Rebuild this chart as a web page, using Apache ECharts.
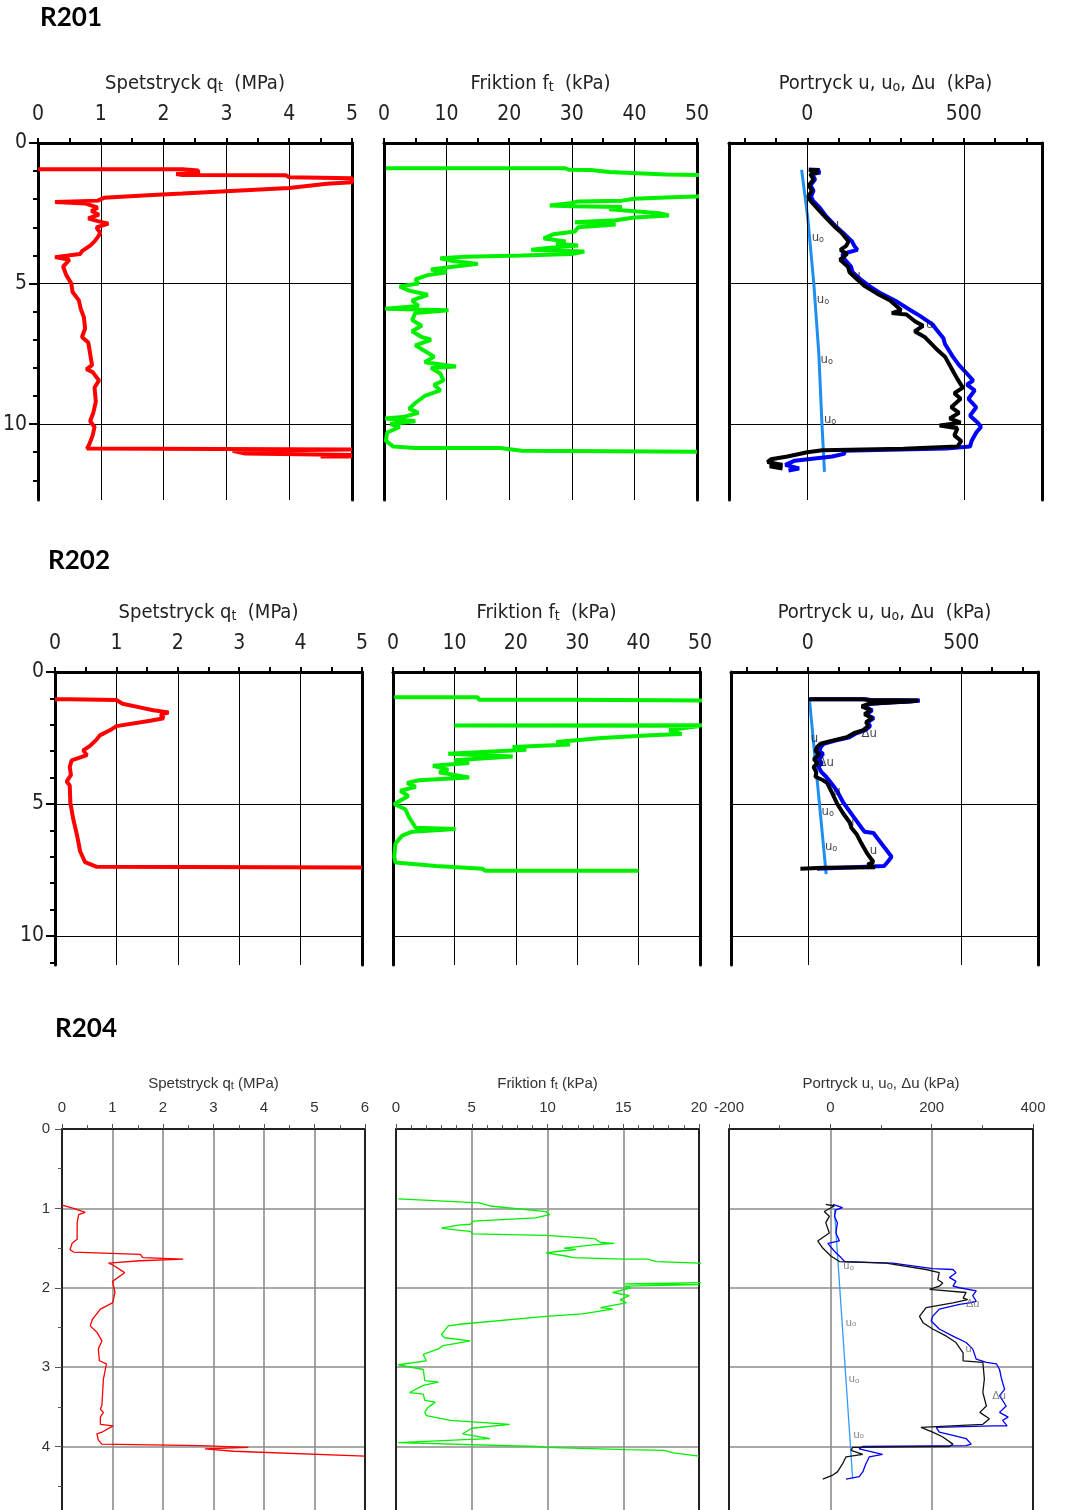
<!DOCTYPE html>
<html><head><meta charset="utf-8">
<script src="https://cdn.jsdelivr.net/npm/echarts@6/dist/echarts.min.js"></script>
<style>html,body{margin:0;padding:0;background:#fff}#c{width:1074px;height:1510px}</style>
</head><body><div id="c"></div>
<script>
// ---------------- DATA (value, depth m) ----------------
const titles = ['R201', 'R202', 'R204'];

const r201_qt = [[0,0.93],[2.3,0.93],[2.55,0.98],[2.55,1.07],[2.2,1.1],[2.3,1.14],[3.95,1.15],[4.0,1.22],[5.0,1.25],[5.0,1.4],[4.6,1.45],[4.0,1.6],[3.3,1.68],[2.3,1.8],[1.75,1.86],[1.05,1.95],[0.95,2.05],[0.27,2.1],[0.75,2.15],[0.95,2.3],[0.85,2.42],[0.97,2.55],[0.8,2.68],[0.95,2.78],[1.12,2.87],[0.93,3.0],[0.99,3.2],[0.95,3.35],[0.9,3.5],[0.83,3.65],[0.7,3.85],[0.67,3.95],[0.27,4.06],[0.5,4.15],[0.4,4.4],[0.45,4.7],[0.53,5.0],[0.55,5.3],[0.65,5.6],[0.68,5.9],[0.73,6.2],[0.75,6.6],[0.7,6.9],[0.8,7.1],[0.83,7.5],[0.86,7.9],[0.77,8.05],[0.87,8.15],[0.97,8.45],[0.9,8.7],[0.92,9.2],[0.88,9.6],[0.83,9.9],[0.9,10.1],[0.87,10.4],[0.82,10.7],[0.78,10.87],[5.0,10.9],[3.1,10.95],[3.3,11.05],[5.0,11.1],[4.5,11.15],[5.0,11.15]];
const r201_ft = [[0.3,0.9],[29,0.9],[29.5,0.95],[33,0.96],[36,1.03],[36,1.1],[45,1.12],[55,1.16],[55,1.88],[50,1.9],[46,1.93],[40,1.98],[38,2.05],[31,2.08],[30,2.13],[26.5,2.22],[30,2.25],[38,2.28],[36,2.36],[44,2.5],[45.5,2.58],[40,2.65],[37,2.75],[30.5,2.82],[37,2.9],[31,3.0],[30.5,3.15],[27,3.25],[25.5,3.4],[29,3.5],[27.5,3.58],[31,3.65],[27,3.72],[23.5,3.8],[32,3.86],[30,3.95],[22,4.0],[13,4.05],[9,4.1],[11,4.2],[15,4.3],[11,4.4],[7.5,4.5],[10,4.6],[7,4.7],[5,4.85],[5.5,5.0],[2.5,5.1],[4,5.25],[7,5.4],[4.5,5.6],[5.5,5.8],[0.2,5.9],[10.3,5.95],[5,6.05],[4.5,6.3],[6,6.5],[4.5,6.7],[6,6.9],[7.5,7.0],[5,7.2],[6.5,7.4],[8,7.6],[6.5,7.8],[11.5,7.95],[7.5,8.0],[9,8.2],[9.5,8.45],[8,8.6],[9,8.8],[6.5,9.0],[5,9.25],[4,9.45],[5.5,9.6],[3,9.75],[0.2,9.8],[5,9.9],[1,10.0],[2.5,10.1],[0.5,10.3],[0.3,10.6],[1.5,10.8],[5,10.85],[18.5,10.85],[22,10.95],[50,10.98]];
const r201_u0 = [[-18,0.95],[2,2.7],[21,5.0],[37,7.5],[47,10.0],[55,11.7]];
const r201_u = [[5,0.95],[40,0.96],[30,1.0],[42,1.05],[15,1.1],[25,1.3],[10,1.5],[20,1.7],[12,1.9],[18,2.05],[40,2.3],[60,2.6],[90,2.95],[115,3.2],[143,3.5],[150,3.65],[160,3.8],[112,3.95],[120,4.15],[140,4.4],[145,4.6],[170,4.85],[200,5.1],[235,5.35],[280,5.6],[330,5.95],[360,6.15],[400,6.45],[410,6.6],[435,6.95],[440,7.15],[465,7.6],[485,7.9],[510,8.2],[530,8.45],[510,8.6],[535,8.8],[515,9.1],[540,9.4],[520,9.7],[545,9.95],[555,10.1],[540,10.3],[525,10.6],[520,10.8],[444,10.87],[115,10.95],[120,11.05],[80,11.15],[-40,11.3],[-70,11.45],[-26,11.58],[-60,11.65]];
const r201_du = [[5,0.95],[37,0.96],[20,1.0],[35,1.05],[10,1.1],[20,1.3],[5,1.5],[15,1.7],[3,1.9],[10,2.05],[30,2.3],[55,2.6],[85,2.95],[110,3.2],[132,3.5],[125,3.65],[106,3.8],[127,3.95],[105,4.15],[130,4.4],[135,4.6],[159,4.85],[185,5.1],[222,5.35],[265,5.6],[300,5.95],[270,6.05],[317,6.1],[345,6.35],[370,6.5],[343,6.7],[375,6.9],[410,7.3],[440,7.6],[465,8.1],[480,8.4],[497,8.7],[470,8.9],[490,9.1],[460,9.4],[485,9.6],[455,9.8],[490,9.95],[423,10.05],[480,10.15],[470,10.4],[492,10.6],[480,10.8],[307,10.88],[48,10.93],[0,11.0],[-63,11.15],[-116,11.25],[-127,11.35],[-79,11.45],[-120,11.5],[-79,11.58]];
const r201_tags = [[90,2.9,'u'],[159,4.72,'u'],[391,6.47,'u'],[34,3.35,'u_o'],[50,5.56,'u_o'],[62,7.72,'u_o'],[73,9.83,'u_o']];

const r202_qt = [[0,1.03],[0.24,1.03],[1.0,1.06],[1.1,1.2],[1.4,1.35],[1.6,1.45],[1.85,1.53],[1.72,1.62],[1.77,1.75],[1.55,1.85],[1.0,2.05],[0.9,2.2],[0.73,2.4],[0.68,2.55],[0.57,2.8],[0.46,2.97],[0.52,3.15],[0.27,3.35],[0.24,3.6],[0.26,3.9],[0.19,4.15],[0.24,4.3],[0.25,4.97],[0.3,5.6],[0.36,6.2],[0.41,6.8],[0.49,7.2],[0.68,7.38],[5.0,7.41]];
const r202_ft = [[0.2,0.96],[13.8,0.96],[14,1.05],[29.3,1.05],[29.5,1.09],[55,1.09],[55,2.02],[10,2.03],[50,2.05],[45,2.2],[47,2.35],[42,2.4],[34,2.5],[26.6,2.65],[28.8,2.75],[19.5,2.84],[21.7,2.95],[9,3.1],[19.5,3.2],[10,3.34],[12.4,3.45],[6.5,3.55],[9,3.7],[7.5,3.8],[12.4,4.0],[4.2,4.1],[2.3,4.2],[3.7,4.35],[1.2,4.5],[2.5,4.7],[0.2,5.0],[2.0,5.2],[2.6,5.5],[3.7,5.9],[10.2,5.95],[3.1,6.05],[1.5,6.2],[0.4,6.5],[0.2,7.0],[0.4,7.22],[7,7.35],[14.6,7.45],[15,7.53],[40,7.53]];
const r202_u0 = [[6,1.1],[60,7.66]];
const r202_u = [[8,1.03],[185,1.03],[205,1.06],[365,1.08],[335,1.12],[285,1.15],[205,1.2],[182,1.3],[210,1.45],[190,1.6],[215,1.75],[196,1.9],[203,2.05],[188,2.2],[158,2.32],[136,2.47],[90,2.6],[52,2.72],[42,2.85],[38,3.0],[50,3.1],[35,3.3],[46,3.45],[35,3.6],[45,3.8],[60,3.97],[73,4.16],[95,4.5],[117,4.97],[150,5.5],[175,5.9],[185,6.05],[214,6.1],[240,6.5],[273,7.0],[260,7.2],[249,7.35],[30,7.45]];
const r202_du = [[3,1.03],[181,1.03],[200,1.06],[360,1.08],[330,1.12],[279,1.15],[200,1.2],[176,1.3],[205,1.45],[185,1.6],[210,1.75],[190,1.9],[197,2.05],[181,2.2],[150,2.32],[127,2.47],[80,2.6],[41,2.72],[30,2.85],[25,3.0],[38,3.1],[20,3.3],[32,3.45],[19,3.6],[28,3.8],[25,3.97],[50,4.1],[63,4.2],[80,4.6],[95,4.97],[115,5.35],[138,5.72],[142,5.9],[160,6.16],[175,6.5],[195,6.9],[214,7.2],[195,7.3],[219,7.4],[50,7.42],[-24,7.45]];
const r202_tags = [[22,2.53,'u'],[200,2.34,'Δu'],[60,3.44,'Δu'],[95,4.53,'u'],[65,5.28,'u_o'],[140,5.72,'u'],[76,6.6,'u_o'],[214,6.78,'u']];

const r204_qt = [[0,0.96],[0.23,1.0],[0.46,1.05],[0.33,1.08],[0.3,1.18],[0.3,1.39],[0.2,1.44],[0.16,1.52],[0.23,1.55],[1.55,1.58],[1.6,1.62],[2.4,1.64],[1.55,1.66],[0.92,1.69],[1.0,1.71],[1.24,1.81],[1.0,1.92],[1.05,2.06],[1.0,2.19],[0.76,2.27],[0.6,2.4],[0.56,2.48],[0.69,2.56],[0.79,2.67],[0.72,2.77],[0.74,2.92],[0.88,2.96],[0.82,3.15],[0.79,3.48],[0.76,3.53],[0.82,3.57],[0.76,3.63],[0.76,3.72],[1.01,3.74],[0.79,3.82],[0.69,3.84],[0.72,3.92],[0.79,3.97],[2.74,3.99],[3.69,4.01],[2.83,4.03],[3.4,4.06],[6.0,4.12]];
const r204_ft = [[0.15,0.88],[5.5,0.93],[6.2,0.97],[9.9,1.04],[10.15,1.08],[9.2,1.12],[5.1,1.16],[4.9,1.2],[4.1,1.21],[3.0,1.25],[3.9,1.27],[4.9,1.29],[5.1,1.32],[9.9,1.34],[13.1,1.38],[13.5,1.43],[14.4,1.44],[13.0,1.46],[11.1,1.5],[11.9,1.52],[10.8,1.54],[9.9,1.56],[11.2,1.6],[11.7,1.62],[15.0,1.64],[16.6,1.64],[17.2,1.67],[20,1.69],[22,1.75],[22,1.93],[15.1,1.95],[20,1.96],[15.1,1.98],[15.5,2.0],[14.3,2.06],[15.4,2.1],[14.8,2.15],[15.2,2.19],[13.5,2.25],[14.3,2.27],[12.3,2.33],[9.9,2.36],[4.2,2.46],[3.45,2.48],[3.0,2.59],[3.2,2.63],[4.9,2.67],[3.7,2.71],[3.1,2.73],[2.8,2.77],[1.8,2.84],[2.0,2.92],[0.15,2.97],[0.05,2.98],[1.8,3.03],[1.9,3.17],[2.8,3.19],[1.8,3.23],[0.9,3.32],[1.8,3.34],[1.9,3.42],[2.6,3.44],[2.1,3.51],[1.9,3.57],[2.0,3.61],[3.6,3.67],[7.5,3.72],[5.0,3.77],[4.4,3.84],[6.2,3.9],[4.9,3.91],[0.15,3.95],[9.3,4.0],[9.9,4.01],[15.2,4.04],[17.7,4.05],[18.3,4.08],[20,4.12]];
const r204_u0 = [[8,1.0],[44,4.4]];
const r204_u = [[5,0.95],[24,0.99],[11,1.02],[8,1.1],[14,1.18],[11,1.31],[18,1.41],[-5,1.44],[8,1.54],[21,1.62],[28,1.67],[123,1.69],[202,1.76],[242,1.77],[248,1.81],[235,1.87],[248,1.92],[242,1.98],[255,2.0],[288,2.04],[281,2.1],[288,2.17],[275,2.19],[255,2.21],[215,2.27],[202,2.36],[199,2.42],[215,2.52],[242,2.61],[268,2.69],[281,2.77],[288,2.9],[308,2.94],[328,2.96],[334,3.03],[338,3.15],[344,3.28],[334,3.36],[347,3.49],[334,3.57],[351,3.63],[340,3.67],[349,3.74],[321,3.74],[209,3.76],[215,3.82],[242,3.86],[268,3.9],[278,3.97],[268,3.99],[64,4.0],[57,4.03],[103,4.1],[77,4.13],[70,4.22],[64,4.32],[57,4.38],[31,4.41]];
const r204_du = [[-9,0.95],[8,0.97],[-12,1.04],[-2,1.1],[-9,1.18],[-2,1.31],[-25,1.41],[-15,1.5],[1,1.6],[18,1.67],[110,1.69],[189,1.77],[215,1.81],[212,1.9],[222,1.94],[215,1.98],[196,2.02],[268,2.06],[262,2.13],[271,2.15],[242,2.19],[189,2.25],[176,2.36],[183,2.44],[202,2.52],[229,2.61],[248,2.69],[262,2.82],[262,2.92],[301,2.94],[304,3.15],[301,3.32],[308,3.49],[295,3.57],[314,3.65],[301,3.72],[179,3.76],[202,3.82],[222,3.88],[242,3.97],[235,4.0],[44,4.01],[41,4.05],[64,4.1],[31,4.13],[24,4.22],[14,4.32],[5,4.36],[-15,4.41]];
const r204_tags = [[36,1.73,'u_o'],[41,2.44,'u_o'],[47,3.15,'u_o'],[56,3.85,'u_o'],[281,2.21,'Δu'],[273,2.77,'u'],[333,3.36,'Δu']];

// axis names / tick values
const nameQt = 'Spetstryck q{s|t}  (MPa)';
const nameFt = 'Friktion f{s|t}  (kPa)';
const nameU = 'Portryck u, u{s|o}, Δu  (kPa)';
const uTicks = [-200,-100,0,100,200,300,400,500,600,700];
const uLabels = [0,500];
const uGrid = [0,500];
const depthMajor12 = [0,5,10];
const depthMinor12 = [1,2,3,4,6,7,8,9,11,12];
const depthMinor11 = [1,2,3,4,6,7,8,9,11];
const depthMajor4 = [0,1,2,3,4];
const depthMinor4 = [0.5,1.5,2.5,3.5,4.5];

// ---------------- STYLE ----------------
const NARROW = "'Liberation Sans Narrow','DejaVu Sans Condensed','Roboto Condensed','Liberation Sans',sans-serif";
const STYLE_A = {font:NARROW, labelSize:21, nameSize:20, subSize:14, textColor:'#222', axisColor:'#000', axisWidth:3,
  tickColor:'#000', tickWidth:2, tickLen:5, minorLen:5, yTickLen:9, yMinorLen:5, splitColor:'#000', splitWidth:1,
  xLabelMargin:18, yLabelMargin:11, nameGap:49, tagSize:13, tagColor:'#111', curveWidth:4, uWidth:4, u0Width:3};
const STYLE_B = {font:"'Liberation Sans',Arial,sans-serif", labelSize:15, nameSize:15, subSize:11, textColor:'#333', axisColor:'#222', axisWidth:2,
  tickColor:'#555', tickWidth:1, tickLen:5, minorLen:4, yTickLen:7, yMinorLen:4, splitColor:'#8c8c8c', splitWidth:1.6,
  xLabelMargin:14, yLabelMargin:12, nameGap:38, tagSize:11, tagColor:'#666', curveWidth:1.3, uWidth:1.3, u0Width:1.3};

const grids = [], xAxes = [], yAxes = [], series = [];

function tagText(t){ return t === 'u_o' ? 'u{s|o}' : t; }

function panel(o){
  const S = o.style;
  const gi = grids.length;
  grids.push({left:o.left, top:o.top, width:o.width, height:o.height});
  const xi = xAxes.length;
  const xa = {
    type:'value', gridIndex:gi, position:'top', min:o.xmin, max:o.xmax,
    name:o.name, nameLocation:'middle', nameGap:S.nameGap,
    nameTextStyle:{fontFamily:S.font, fontSize:S.nameSize, color:S.textColor,
      rich:{s:{fontFamily:S.font, fontSize:S.subSize, color:S.textColor, verticalAlign:'bottom', lineHeight:S.subSize+2}}},
    axisLine:{show:true, onZero:false, lineStyle:{color:S.axisColor, width:S.axisWidth}},
    axisTick:{show:true, length:S.tickLen, lineStyle:{color:S.tickColor, width:S.tickWidth}},
    minorTick:{show:!!o.xMinor, splitNumber:o.xMinor || 2, length:S.minorLen, lineStyle:{color:S.tickColor, width:S.tickWidth}},
    axisLabel:{show:true, margin:S.xLabelMargin, fontFamily:S.font, fontSize:S.labelSize, color:S.textColor},
    splitLine:{show:true, lineStyle:{color:S.splitColor, width:S.splitWidth}},
    minorSplitLine:{show:false}
  };
  if (o.xInterval) xa.interval = o.xInterval;
  if (o.xTicks) {
    xa.axisTick.customValues = o.xTicks;
    xa.axisLabel.customValues = o.xLabels;
    xa.splitLine.show = false;
    xa.minorTick.show = false;
  }
  xAxes.push(xa);
  const yi = yAxes.length;
  const hasTicks = !!o.yTicks;
  const ya = {
    type:'value', gridIndex:gi, inverse:true, min:0, max:o.ymax, interval:o.yInterval, position:'left',
    axisLine:{show:true, onZero:false, lineStyle:{color:S.axisColor, width:S.axisWidth}},
    axisTick:{show:hasTicks, length:S.yTickLen, lineStyle:{color:S.tickColor, width:S.tickWidth}},
    minorTick:{show:false},
    axisLabel:{show:hasTicks, margin:S.yLabelMargin, fontFamily:S.font, fontSize:S.labelSize, color:S.textColor},
    splitLine:{show:true, showMaxLine:hasTicks, lineStyle:{color:S.splitColor, width:S.splitWidth}},
    minorSplitLine:{show:false}
  };
  if (hasTicks) { ya.axisTick.customValues = o.yTicks; ya.axisLabel.customValues = o.yTicks; }
  yAxes.push(ya);
  yAxes.push({
    type:'value', gridIndex:gi, inverse:true, min:0, max:o.ymax, interval:o.yInterval, position:'right',
    axisLine:{show:true, onZero:false, lineStyle:{color:S.axisColor, width:S.axisWidth}},
    axisTick:{show:false}, axisLabel:{show:false}, splitLine:{show:false}
  });
  if (o.yMinorTicks) {
    yAxes.push({
      type:'value', gridIndex:gi, inverse:true, min:0, max:o.ymax, interval:o.yInterval, position:'left', offset:0,
      axisLine:{show:false}, axisLabel:{show:false}, splitLine:{show:false},
      axisTick:{show:true, customValues:o.yMinorTicks, length:S.yMinorLen, lineStyle:{color:S.tickColor, width:S.tickWidth}}
    });
  }
  o.curves.forEach(c => {
    const s = {type:'line', xAxisIndex:xi, yAxisIndex:yi, data:c.data, symbol:'none', showSymbol:false,
      lineStyle:{color:c.color, width:c.width}, clip:true, silent:true, z:c.z || 2, animation:false};
    if (c.gridLines) {
      s.markLine = {silent:true, symbol:['none','none'], label:{show:false}, animation:false,
        lineStyle:{color:S.splitColor, width:S.splitWidth, type:'solid'},
        data:c.gridLines.map(v => ({xAxis:v}))};
    }
    series.push(s);
  });
  if (o.tags) {
    series.push({type:'scatter', xAxisIndex:xi, yAxisIndex:yi, symbolSize:1, itemStyle:{color:'rgba(0,0,0,0)'},
      silent:true, z:5, animation:false,
      data:o.tags.map(t => ({value:[t[0], t[1]], label:{formatter:tagText(t[2])}})),
      label:{show:true, position:'inside', fontFamily:S.font, fontSize:S.tagSize, color:S.tagColor,
        rich:{s:{fontFamily:S.font, fontSize:Math.round(S.tagSize*0.7), color:S.tagColor, verticalAlign:'bottom', lineHeight:8}}}});
  }
}

const RED = '#ff0000', GREEN = '#00f000', BLUE = '#0000ff', BLACK = '#000000', LBLUE = '#1e8ff0';

// Row 1 : R201
panel({style:STYLE_A, left:38, top:143, width:314, height:357, xmin:0, xmax:5, xInterval:1, xMinor:2, name:nameQt,
  ymax:12.7, yInterval:5, yTicks:depthMajor12, yMinorTicks:depthMinor12,
  curves:[{data:r201_qt, color:RED, width:STYLE_A.curveWidth}]});
panel({style:STYLE_A, left:384, top:143, width:313, height:357, xmin:0, xmax:50, xInterval:10, xMinor:2, name:nameFt,
  ymax:12.7, yInterval:5,
  curves:[{data:r201_ft, color:GREEN, width:STYLE_A.curveWidth}]});
panel({style:STYLE_A, left:729, top:143, width:313, height:357, xmin:-250, xmax:750, xTicks:uTicks, xLabels:uLabels, name:nameU,
  ymax:12.7, yInterval:5,
  curves:[{data:r201_u0, color:LBLUE, width:STYLE_A.u0Width, gridLines:uGrid, z:2},
          {data:r201_u, color:BLUE, width:STYLE_A.uWidth, z:3},
          {data:r201_du, color:BLACK, width:STYLE_A.uWidth, z:4}],
  tags:r201_tags});

// Row 2 : R202
panel({style:STYLE_A, left:55, top:672, width:307, height:293, xmin:0, xmax:5, xInterval:1, xMinor:2, name:nameQt,
  ymax:11.1, yInterval:5, yTicks:depthMajor12, yMinorTicks:depthMinor11,
  curves:[{data:r202_qt, color:RED, width:STYLE_A.curveWidth}]});
panel({style:STYLE_A, left:393, top:672, width:307, height:293, xmin:0, xmax:50, xInterval:10, xMinor:2, name:nameFt,
  ymax:11.1, yInterval:5,
  curves:[{data:r202_ft, color:GREEN, width:STYLE_A.curveWidth}]});
panel({style:STYLE_A, left:731, top:672, width:307, height:293, xmin:-250, xmax:750, xTicks:uTicks, xLabels:uLabels, name:nameU,
  ymax:11.1, yInterval:5,
  curves:[{data:r202_u0, color:LBLUE, width:STYLE_A.u0Width, gridLines:uGrid, z:2},
          {data:r202_u, color:BLUE, width:STYLE_A.uWidth, z:3},
          {data:r202_du, color:BLACK, width:STYLE_A.uWidth, z:4}],
  tags:r202_tags});

// Row 3 : R204
panel({style:STYLE_B, left:62, top:1129, width:303, height:383, xmin:0, xmax:6, xInterval:1, xMinor:2, name:nameQt.replace('  ',' '),
  ymax:4.8, yInterval:1, yTicks:depthMajor4, yMinorTicks:depthMinor4,
  curves:[{data:r204_qt, color:RED, width:STYLE_B.curveWidth}]});
panel({style:STYLE_B, left:396, top:1129, width:303, height:383, xmin:0, xmax:20, xInterval:5, xMinor:5, name:nameFt.replace('  ',' '),
  ymax:4.8, yInterval:1,
  curves:[{data:r204_ft, color:GREEN, width:STYLE_B.curveWidth}]});
panel({style:STYLE_B, left:729, top:1129, width:304, height:383, xmin:-200, xmax:400, xInterval:200, xMinor:2, name:nameU.replace('  ',' '),
  ymax:4.8, yInterval:1,
  curves:[{data:r204_u0, color:'#3399ff', width:STYLE_B.u0Width, z:2},
          {data:r204_u, color:BLUE, width:STYLE_B.uWidth, z:3},
          {data:r204_du, color:'#111', width:STYLE_B.uWidth, z:4}],
  tags:r204_tags});

const chart = echarts.init(document.getElementById('c'), null, {renderer:'canvas'});
chart.setOption({
  animation:false,
  backgroundColor:'#fff',
  textStyle:{fontFamily:NARROW},
  grid:grids, xAxis:xAxes, yAxis:yAxes, series:series,
  graphic:[
    {type:'text', left:40, top:5, style:{text:titles[0], font:"bold 26px Lato, 'Open Sans', sans-serif", fill:'#000'}},
    {type:'text', left:48, top:548, style:{text:titles[1], font:"bold 26px Lato, 'Open Sans', sans-serif", fill:'#000'}},
    {type:'text', left:55, top:1016, style:{text:titles[2], font:"bold 26px Lato, 'Open Sans', sans-serif", fill:'#000'}}
  ]
});
</script></body></html>
